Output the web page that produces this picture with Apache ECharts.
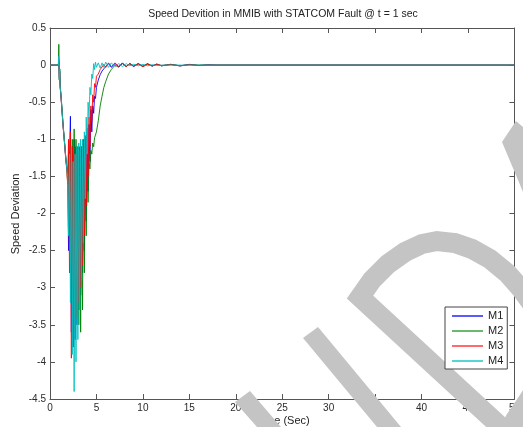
<!DOCTYPE html>
<html>
<head>
<meta charset="utf-8">
<script src="https://cdn.jsdelivr.net/npm/echarts@6/dist/echarts.min.js"></script>
<style>
html,body{margin:0;padding:0;background:#fff;}
#c{width:523px;height:427px;}
</style>
</head>
<body>
<div id="c"></div>
<script>
// Time (s)
const T = [0, 0.9, 0.95, 1.0, 1.05, 1.1, 1.2, 1.3, 1.4, 1.5, 1.6, 1.7, 1.8,
  1.9, 2.0, 2.1, 2.2, 2.3, 2.4, 2.5, 2.6, 2.7, 2.8, 2.9, 3.0, 3.1, 3.2, 3.3, 3.4, 3.5, 3.6, 3.7, 3.8, 3.9, 4.0, 4.1, 4.2, 4.3, 4.4, 4.5, 4.6, 4.7, 4.8, 4.9, 5.0,
  5.2, 5.4, 5.6, 5.8, 6.0, 6.3, 6.6, 7.0, 7.4, 7.8, 8.2, 8.6, 9.0, 9.5, 10, 10.5, 11, 11.5, 12, 13, 14, 15, 16, 17, 18, 19, 20, 50];

const M1 = [0, 0, 0.05, -0.15, -0.1, -0.3, -0.45, -0.62, -0.8, -0.95, -1.1, -1.25, -1.38,
  -1.45, -2.5, -1.3, -0.69, -3.6, -1.1, -3.8, -1.0, -3.7, -1.1, -3.5, -1.1, -3.3, -1.1, -3.1, -1.1, -2.8, -1.05, -2.5, -1.0, -2.1, -0.9, -1.7, -0.8, -1.3, -0.6, -0.9, -0.55, -0.65, -0.42, -0.45, -0.3,
  -0.2, -0.13, -0.08, -0.05, -0.02, 0.02, -0.03, 0.02, -0.02, 0.03, -0.02, 0.02, -0.02, 0.02, -0.015, 0.02, -0.015, 0.015, -0.01, 0.01, -0.01, 0.01, -0.005, 0.005, 0, 0, 0, 0];

const M2 = [0, 0, 0.28, -0.2, -0.05, -0.28, -0.42, -0.6, -0.78, -0.93, -1.08, -1.24, -1.36,
  -1.6, -1.2, -2.4, -1.1, -2.9, -1.0, -3.2, -0.86, -3.3, -1.0, -3.4, -1.1, -3.5, -1.2, -3.6, -1.3, -3.3, -1.4, -2.8, -1.5, -2.3, -1.45, -1.85, -1.3, -1.4, -1.15, -1.2, -1.05, -1.1, -0.98, -1.0, -0.9,
  -0.75, -0.55, -0.42, -0.3, -0.22, -0.12, -0.06, 0.0, -0.03, 0.02, -0.02, 0.02, -0.01, 0.02, -0.02, 0.015, -0.01, 0.01, -0.01, 0.01, -0.01, 0.005, 0, 0, 0, 0, 0, 0];

const M3 = [0, 0, 0.08, -0.18, -0.08, -0.3, -0.46, -0.64, -0.82, -0.96, -1.12, -1.28, -1.4,
  -1.6, -1.0, -2.8, -0.9, -3.95, -1.1, -3.7, -1.2, -3.6, -1.2, -3.4, -1.2, -3.2, -1.15, -3.0, -1.1, -2.7, -1.0, -2.3, -0.95, -1.9, -0.85, -1.5, -0.7, -1.1, -0.55, -0.75, -0.4, -0.5, -0.25, -0.3, -0.15,
  -0.12, -0.06, -0.05, 0.01, -0.03, 0.03, -0.02, 0.03, -0.02, 0.02, -0.02, 0.02, -0.015, 0.015, -0.02, 0.01, -0.01, 0.01, -0.005, 0.005, -0.01, 0.005, -0.005, 0, 0, 0, 0, 0];

const M4 = [0, 0, 0.12, -0.2, -0.06, -0.29, -0.44, -0.62, -0.8, -0.95, -1.1, -1.26, -1.38,
  -1.5, -2.3, -1.2, -3.2, -1.1, -3.9, -1.3, -4.4, -1.2, -4.0, -1.1, -3.7, -1.05, -3.3, -1.0, -2.9, -1.0, -2.4, -0.9, -1.8, -0.7, -1.2, -0.5, -0.7, -0.3, -0.4, -0.12, -0.18, 0.02, -0.06, 0.04, -0.03,
  0.03, -0.04, 0.03, -0.03, 0.04, -0.03, 0.03, -0.02, 0.02, -0.02, 0.02, -0.01, 0.01, -0.01, 0.01, -0.01, 0.005, -0.005, 0, 0, 0, 0, 0, 0, 0, 0, 0, 0];

const seriesNames = ['M1', 'M2', 'M3', 'M4'];
const seriesColors = ['#0000ff', '#008000', '#ff0000', '#00bfbf'];
const legendColors = ['#5a5aff', '#6cb86c', '#ff6a6a', '#55d5d5'];
const seriesValues = [M1, M2, M3, M4];

const xTicks = {min: 0, max: 50, interval: 5};
const yTicks = {min: -4.5, max: 0.5, interval: 0.5};

const titleText = 'Speed Devition in MMIB with STATCOM Fault @ t = 1 sec';
const xName = 'Time (Sec)';
const yName = 'Speed Deviation';

const FONT = 'Liberation Sans, Arial, sans-serif';
const AX = '#555';

function axisCommon(showLabel) {
  return {
    type: 'value',
    axisLine: {show: true, onZero: false, lineStyle: {color: AX, width: 1}},
    axisTick: {show: true, inside: true, length: 5, lineStyle: {color: AX}},
    axisLabel: {show: showLabel, color: '#2a2a2a', fontSize: 10, fontFamily: FONT, margin: 4},
    splitLine: {show: false}
  };
}

const chart = echarts.init(document.getElementById('c'), null, {renderer: 'canvas'});

const wmColor = '#c4c4c4';

chart.setOption({
  animation: false,
  backgroundColor: '#fff',
  grid: {left: 50, right: 6, top: 28, bottom: 28, containLabel: false},
  xAxis: [
    Object.assign(axisCommon(true), xTicks, {position: 'bottom'}),
    Object.assign(axisCommon(false), xTicks, {position: 'top'})
  ],
  yAxis: [
    Object.assign(axisCommon(true), yTicks, {position: 'left'}),
    Object.assign(axisCommon(false), yTicks, {position: 'right'})
  ],
  legend: {
    data: seriesNames.map((n, k) => ({name: n, itemStyle: {color: legendColors[k]}})),
    orient: 'vertical',
    left: 445, top: 307,
    padding: [3, 4, 2, 7],
    itemGap: 3,
    itemWidth: 31,
    itemHeight: 2,
    icon: 'rect',
    backgroundColor: '#fff',
    borderColor: '#444',
    borderWidth: 1,
    borderRadius: 0,
    textStyle: {fontSize: 11, color: '#222', fontFamily: FONT, lineHeight: 12},
    z: 100
  },
  series: seriesNames.map((n, k) => ({
    name: n,
    type: 'line',
    xAxisIndex: 0,
    yAxisIndex: 0,
    showSymbol: false,
    symbol: 'none',
    data: T.map((t, i) => [t, seriesValues[k][i]]),
    lineStyle: {color: seriesColors[k], width: 1, opacity: 0.9},
    itemStyle: {color: seriesColors[k]},
    emphasis: {disabled: true}
  })),
  graphic: [
    {type: 'text', x: 283, y: 14, z: 10, style: {text: titleText, font: '10.5px ' + FONT, fill: '#222', textAlign: 'center', textVerticalAlign: 'middle'}},
    {type: 'text', x: 283, y: 421, z: 10, style: {text: xName, font: '11px ' + FONT, fill: '#222', textAlign: 'center', textVerticalAlign: 'middle'}},
    {type: 'text', x: 16, y: 214, rotation: Math.PI / 2, z: 10, style: {text: yName, font: '11px ' + FONT, fill: '#222', textAlign: 'center', textVerticalAlign: 'middle'}},
    // watermark strokes
    {type: 'polygon', z: 50, shape: {points: [[502,142],[516,121],[523,127],[523,192],[518,180]]}, style: {fill: wmColor}},
    {type: 'polygon', z: 50, shape: {points: [[303,338],[318,327],[401,427],[377,427]]}, style: {fill: wmColor}},
    {type: 'polygon', z: 50, shape: {points: [[235,402],[250,391],[281,427],[257,427]]}, style: {fill: wmColor}},
    {type: 'polyline', z: 50, shape: {points: [[515,440],[360,297],[372,280],[388,264],[405,252],[422,244],[437,241],[455,243],[472,249],[490,259],[507,273],[522,290],[538,312],[548,340],[545,370],[530,398],[515,420],[505,440]]},
      style: {stroke: wmColor, lineWidth: 20, fill: null, lineJoin: 'miter'}}
  ]
});
</script>
</body>
</html>
